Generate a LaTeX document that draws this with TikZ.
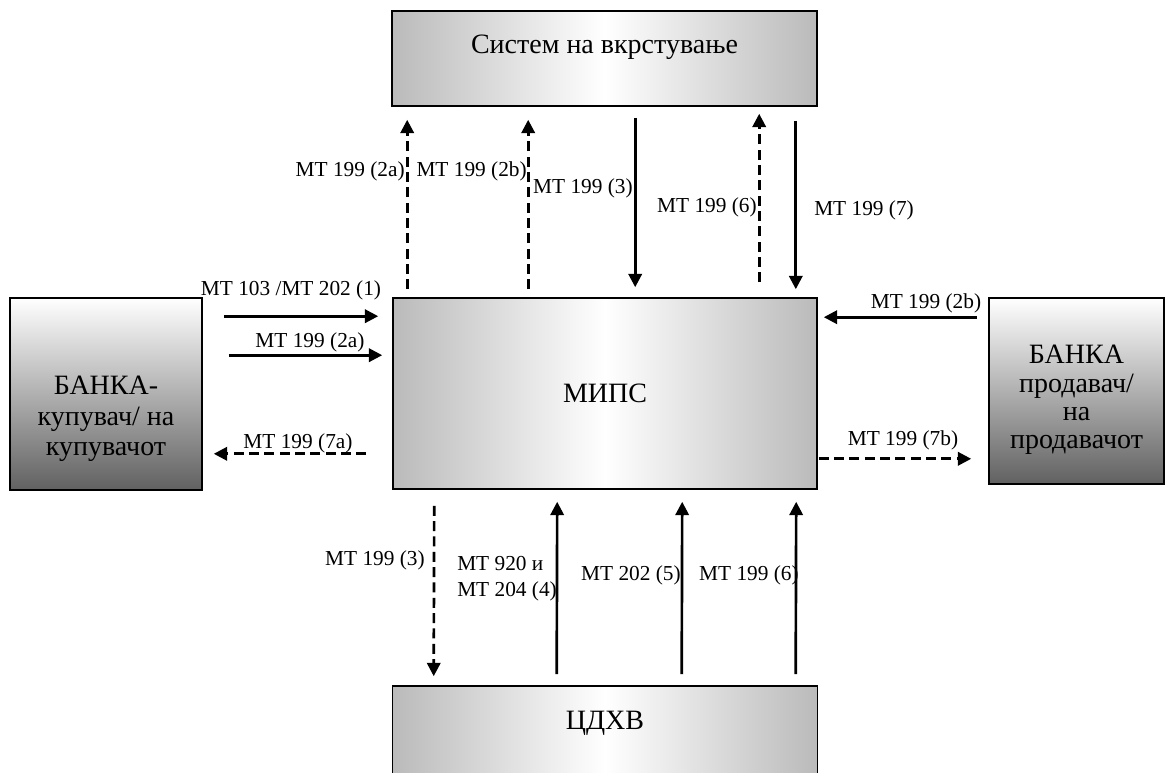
\documentclass[tikz,border=0pt]{standalone}
\usepackage{fontspec}
\setmainfont{Liberation Serif}
\usetikzlibrary{arrows.meta, positioning, calc}

\begin{document}
\begin{tikzpicture}[x=0.75pt, y=-0.75pt, >={Triangle[length=10pt,width=10pt]},
    midbox/.style={draw, line width=1.2pt, left color=black!27, right color=black!27, middle color=white, inner sep=0pt, font=\fontsize{21}{23}\selectfont},
    sidebox/.style={draw, line width=1.2pt, top color=white, bottom color=black!62},
    txt/.style={align=center, inner sep=0pt},
    flow/.style={->, line width=2pt},
    dflow/.style={flow, dash pattern=on 7.5pt off 4pt},
    lbl/.style={inner sep=0pt, font=\fontsize{16}{19.5}\selectfont}]
  \useasboundingbox (0,0) rectangle (1167,773);
  % boxes
  \node[midbox, minimum width=318.75pt, minimum height=71.25pt, text height=32.25pt, text depth=39pt] (sys) at (604.5,58.5) {Систем на вкрстување};
  \node[midbox, minimum width=318pt, minimum height=143.25pt] (mips) at (605,393.5) {МИПС};
  \node[midbox, minimum width=318.75pt, minimum height=71.25pt, text height=32.25pt, text depth=39pt] (cdhv) at (605,733.5) {ЦДХВ};
  \node[sidebox, minimum width=144pt, minimum height=144pt] (buyer) at (106,394) {};
  \node[sidebox, minimum width=131.25pt, minimum height=139.5pt] (seller) at (1076.5,391) {};
  \node[txt, font=\fontsize{21}{23}\selectfont] (buyertxt) at (106,419) {БАНКА-\\купувач/ на\\купувачот};
  \node[txt, font=\fontsize{21}{21.2}\selectfont] (sellertxt) at (1076.5,400) {БАНКА\\продавач/\\на\\продавачот};

  % clearing system <-> MIPS
  \draw[dflow] ($(mips.north west)+(15,-8)$) -- ($(sys.south west)+(16,13)$);
  \draw[dflow] ($(mips.north west)+(136,-8)$) -- ($(sys.south west)+(137,13)$);
  \draw[flow] ($(sys.south west)+(244,11)$) -- ($(mips.north west)+(243,-10)$);
  \draw[dflow] ($(mips.north west)+(367,-15)$) -- ($(sys.south west)+(368,7)$);
  \draw[flow] ($(sys.south east)+(-22,14)$) -- ($(mips.north east)+(-22,-8)$);
  \node[lbl, anchor=east] (t2a) at (405,171) {MT 199 (2a)};
  \node[lbl, anchor=east] (t2b) at (527,171) {MT 199 (2b)};
  \node[lbl, anchor=east] (t3) at (633,188) {MT 199 (3)};
  \node[lbl, anchor=east] (t6) at (757,207) {MT 199 (6)};
  \node[lbl, anchor=west] (t7) at (814,210) {MT 199 (7)};

  % buyer bank
  \draw[flow] ($(buyer.north east)+(21,19)$) -- ($(mips.north west)+(-14,19)$);
  \draw[flow] ($(buyer.north east)+(26,58)$) -- ($(mips.north west)+(-10,58)$);
  \draw[dflow] ($(mips.south west)+(-26,-36)$) -- ($(buyer.south east)+(11,-37)$);
  \node[lbl] (l1) at (291,290) {MT 103 /MT 202 (1)};
  \node[lbl] (l2a) at (310,342) {MT 199 (2a)};
  \node[lbl] (l7a) at (298,443) {MT 199 (7a)};

  % seller bank
  \draw[flow] ($(seller.north west)+(-11,20)$) -- ($(mips.north east)+(6,20)$);
  \draw[dflow] ($(mips.south east)+(1,-31)$) -- ($(seller.south west)+(-17,-26)$);
  \node[lbl] (r2b) at (926,303) {MT 199 (2b)};
  \node[lbl] (r7b) at (903,440) {MT 199 (7b)};

  % depository
  \draw[dflow] ($(mips.south west)+(42,16)$) -- ($(cdhv.north west)+(42,-9)$);
  \draw[flow] ($(cdhv.north west)+(165,-11)$) -- ($(mips.south west)+(165,12)$);
  \draw[flow] ($(cdhv.north west)+(290,-11)$) -- ($(mips.south west)+(290,12)$);
  \draw[flow] ($(cdhv.north west)+(404,-11)$) -- ($(mips.south west)+(404,12)$);
  \node[lbl, anchor=east] (b3) at (425,560) {MT 199 (3)};
  \node[lbl, anchor=west, align=left] (b4) at (457,579) {MT 920 и\\MT 204 (4)};
  \node[lbl, anchor=east] (b5) at (681,575) {MT 202 (5)};
  \node[lbl, anchor=east] (b6) at (799,575) {MT 199 (6)};
\end{tikzpicture}
\end{document}
